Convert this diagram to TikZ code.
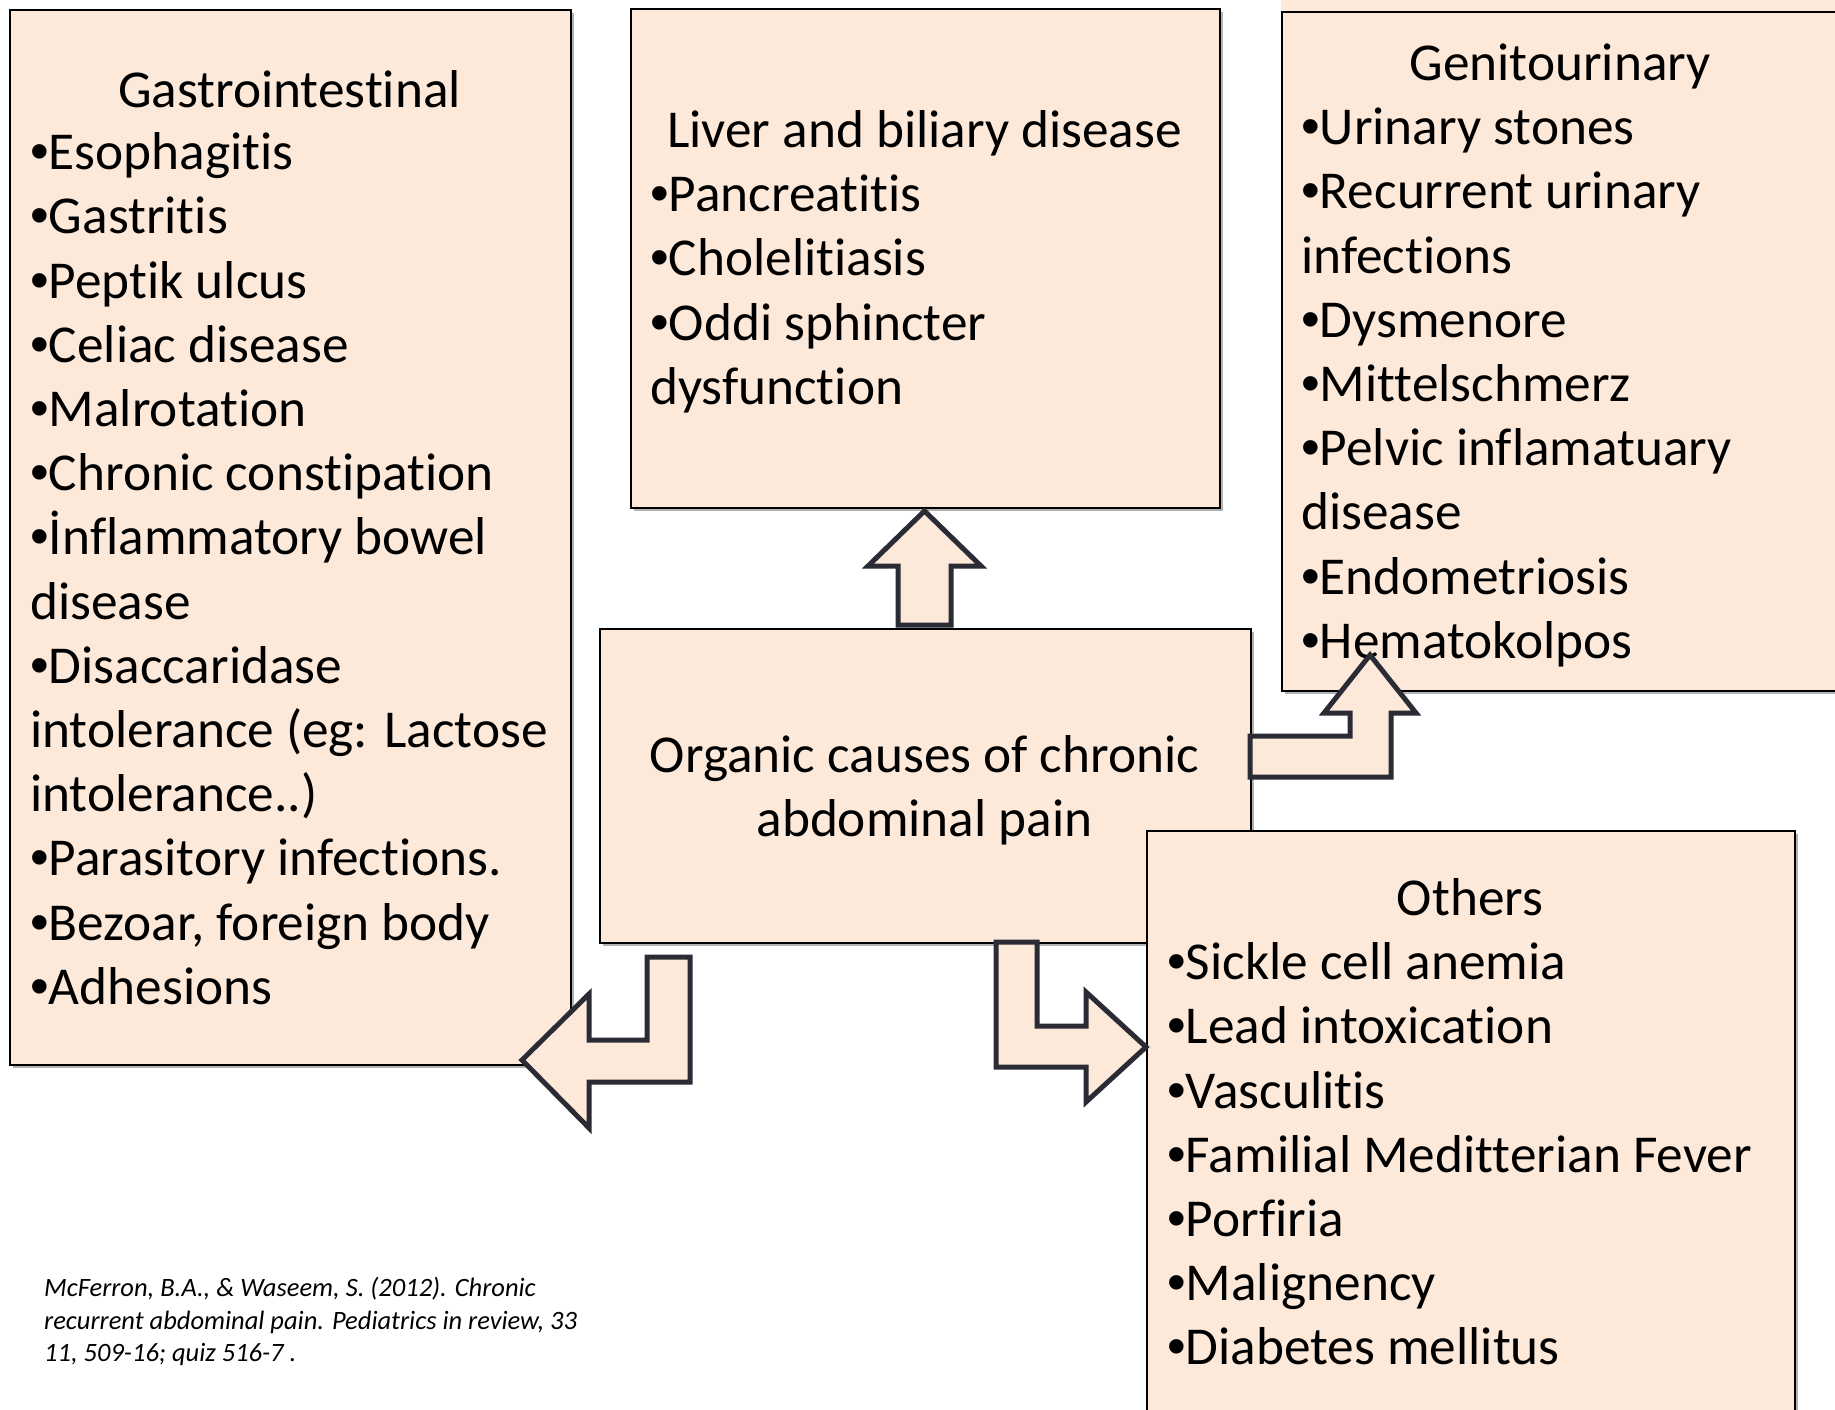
\documentclass[tikz,border=0pt]{standalone}
\usepackage{fontspec}
\setmainfont{Carlito}[Ligatures={NoCommon,NoContextual}]
\newfontfamily\bulletfont{Liberation Sans}
\usetikzlibrary{shadows}
\definecolor{peach}{HTML}{FDE9D9}
\definecolor{arrowline}{HTML}{2B2B36}
\newcommand\fl{\rule{0pt}{45pt}}
\newcommand\bl{{\bulletfont •}}
\begin{document}
\begin{tikzpicture}[x=1pt,y=-1pt,
  box/.style={draw=black, line width=2pt, fill=peach, inner sep=0pt, anchor=north west,
    drop shadow={shadow xshift=3pt, shadow yshift=-3pt, fill=black, opacity=0.3}},
  blockarrow/.style={draw=arrowline, fill=peach, line width=5pt, line join=miter},
  lst/.style={inner sep=0pt, font=\fontsize{53.3}{64.2}\selectfont, align=left, anchor=north west},
  ttl/.style={inner sep=0pt, font=\fontsize{53.3}{64.2}\selectfont, anchor=base},
  cite/.style={inner sep=0pt, font=\fontsize{26.5}{32.8}\selectfont\itshape, align=left, anchor=north west}]
\useasboundingbox (0,0) rectangle (1835,1409);
\clip (0,0) rectangle (1835,1409);
\fill[white] (0,0) rectangle (1835,1409);
% strip above genitourinary box
\fill[peach] (1281,-5) rectangle (1845,11);
% boxes
\node[box, minimum width=561pt, minimum height=1055pt] (gi) at (9,9) {};
\node[box, minimum width=589pt, minimum height=499pt] (liver) at (630,8) {};
\node[box, minimum width=564pt, minimum height=679pt] (gu) at (1281,11) {};
\node[box, minimum width=651pt, minimum height=314pt] (center) at (599,628) {};
\node[box, minimum width=648pt, minimum height=600pt] (others) at (1146,830) {};
% texts
\node[ttl] (gititle) at (289.5,107.5) {Gastrointestinal};
\node[lst] (gilist) at (30,124.5) {\fl\bl Esophagitis\\\bl Gastritis\\\bl Peptik ulcus\\\bl Celiac disease\\\bl Malrotation\\\bl Chronic constipation\\\bl İnflammatory bowel\\disease\\\bl Disaccaridase\\intolerance (eg: Lactose\\intolerance..)\\\bl Parasitory infections.\\\bl Bezoar, foreign body\\\bl Adhesions};
\node[ttl] (livertitle) at (924.5,147.5) {Liver and biliary disease};
\node[lst] (liverlist) at (650,166.5) {\fl\bl Pancreatitis\\\bl Cholelitiasis\\\bl Oddi sphincter\\dysfunction};
\node[ttl] (gutitle) at (1560,80.5) {Genitourinary};
\node[lst] (gulist) at (1301,99.5) {\fl\bl Urinary stones\\\bl Recurrent urinary\\infections\\\bl Dysmenore\\\bl Mittelschmerz\\\bl Pelvic inflamatuary\\disease\\\bl Endometriosis\\\bl Hematokolpos};
\node[lst, align=center, anchor=north] (centertext) at (924.5,727.5) {\fl Organic causes of chronic\\abdominal pain};
\node[ttl] (otitle) at (1470,915.5) {Others};
\node[lst] (olist) at (1167,934.5) {\fl\bl Sickle cell anemia\\\bl Lead intoxication\\\bl Vasculitis\\\bl Familial Meditterian Fever\\\bl Porfiria\\\bl Malignency\\\bl Diabetes mellitus};
\node[cite] (citation) at (44,1274) {\rule{0pt}{22pt}McFerron, B.A., \& Waseem, S. (2012). Chronic\\recurrent abdominal pain. Pediatrics in review, 33\\11, 509-16; quiz 516-7 .};
% block arrows
\draw[blockarrow] (898,625) -- (898,566) -- (868,566) -- (924.5,511) -- (981,566) -- (951,566) -- (951,625) -- cycle;
\draw[blockarrow] (1250,736) -- (1350,736) -- (1350,713) -- (1324,713) -- (1370,655) -- (1416,713) -- (1391,713) -- (1391,777) -- (1250,777) -- cycle;
\draw[blockarrow] (996,942) -- (1037,942) -- (1037,1026) -- (1086,1026) -- (1086,992) -- (1146,1047) -- (1086,1102) -- (1086,1067) -- (996,1067) -- cycle;
\draw[blockarrow] (647,957) -- (690,957) -- (690,1082) -- (589,1082) -- (589,1128) -- (522,1060) -- (589,994) -- (589,1040) -- (647,1040) -- cycle;
\end{tikzpicture}
\end{document}
